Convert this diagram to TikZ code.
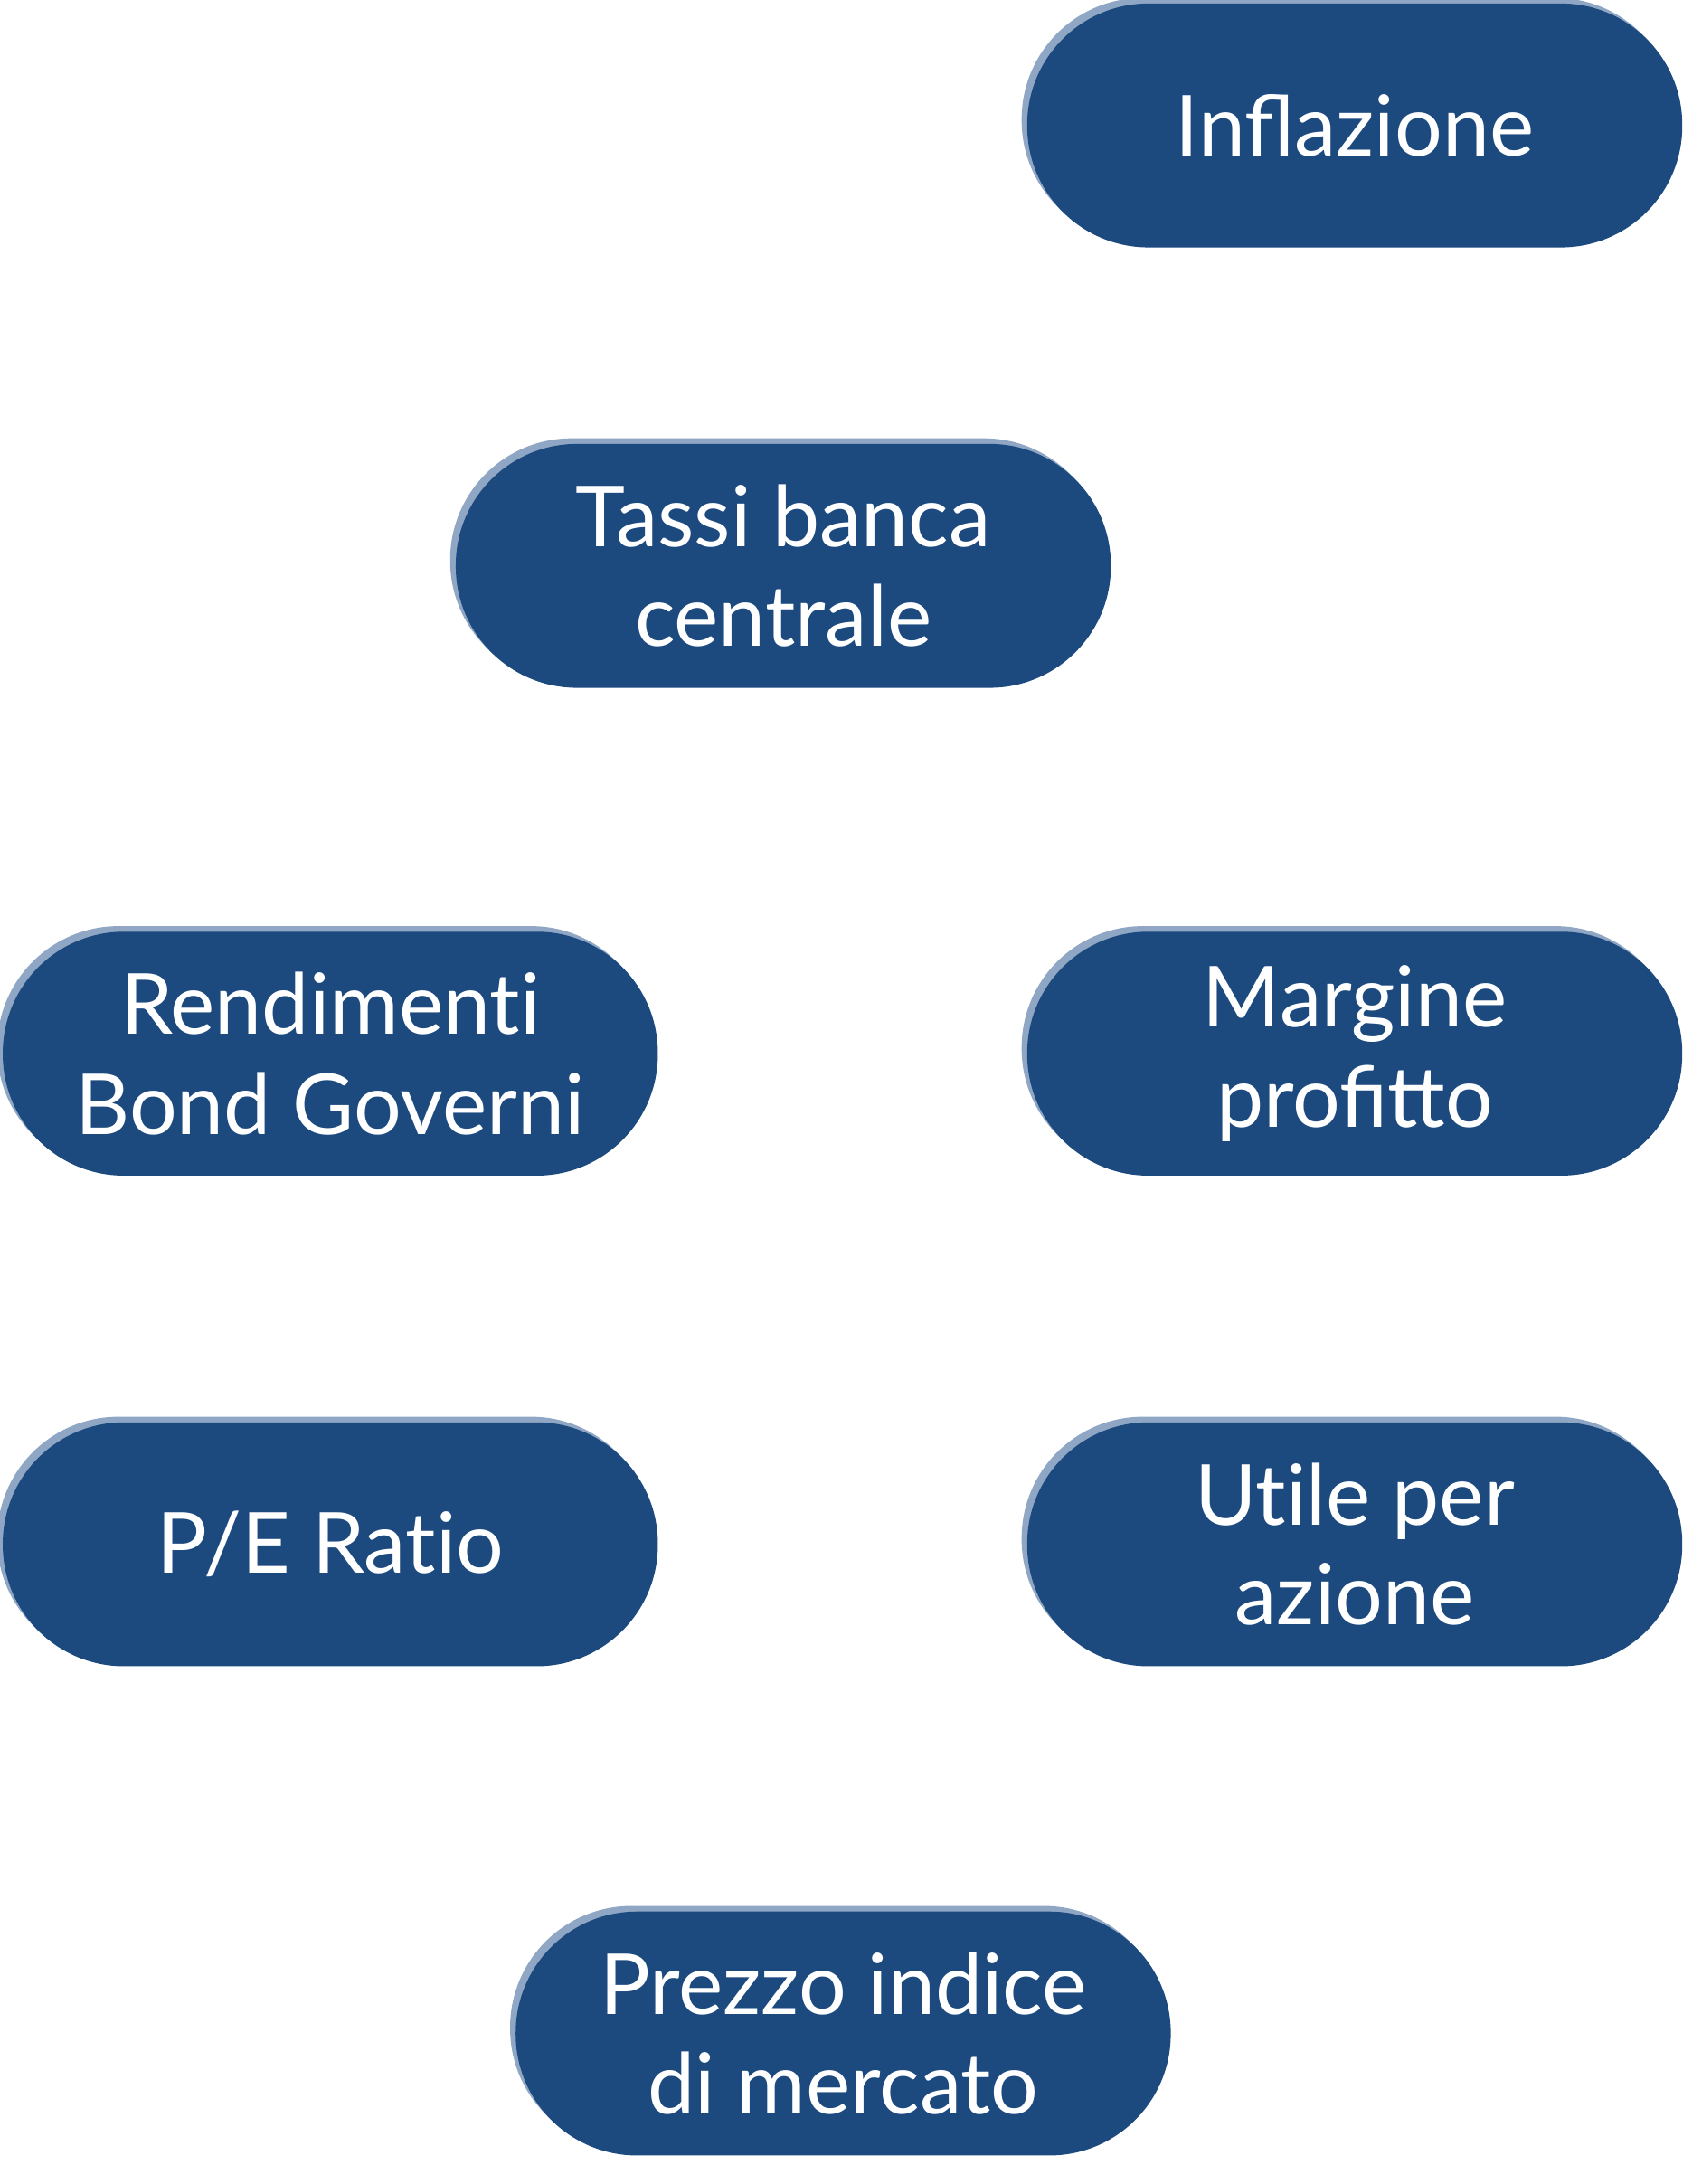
\documentclass[tikz,border=0pt]{standalone}
\usepackage{fontspec}
\setmainfont{Lato}
\definecolor{pill}{HTML}{1C4A7F}
\definecolor{pilledge}{HTML}{8FA6C4}
\newcommand{\nt}{t\kern0pt i}
\begin{document}
\begin{tikzpicture}[x=0.05cm,y=-0.05cm,
  pill/.style={rounded corners=87*0.05cm, minimum width=470*0.05cm, minimum height=175*0.05cm,
    fill=pill, text=white, align=center, inner sep=0pt,
    font=\fontsize{86}{102}\selectfont,
    preaction={fill=pilledge, rounded corners=87*0.05cm, transform canvas={shift={(-0.2cm,0.2cm)}}}}]
\useasboundingbox (0,0) rectangle (1207,1567);
\fill[white] (0,0) rectangle (1207,1567);
\node[pill] (infl) at (972,90) {Inflazione};
\node[pill] (tassi) at (562,406) {Tassi banca\\centrale};
\node[pill] (rend) at (237,756) {Rendimen\nt\\Bond Governi};
\node[pill] (marg) at (972,756) {Margine\\profitto};
\node[pill] (pe) at (237,1108) {P/E Ra\nt o};
\node[pill] (utile) at (972,1108) {U\nt le per\\azione};
\node[pill] (prezzo) at (605,1459) {Prezzo indice\\di mercato};
\end{tikzpicture}
\end{document}
